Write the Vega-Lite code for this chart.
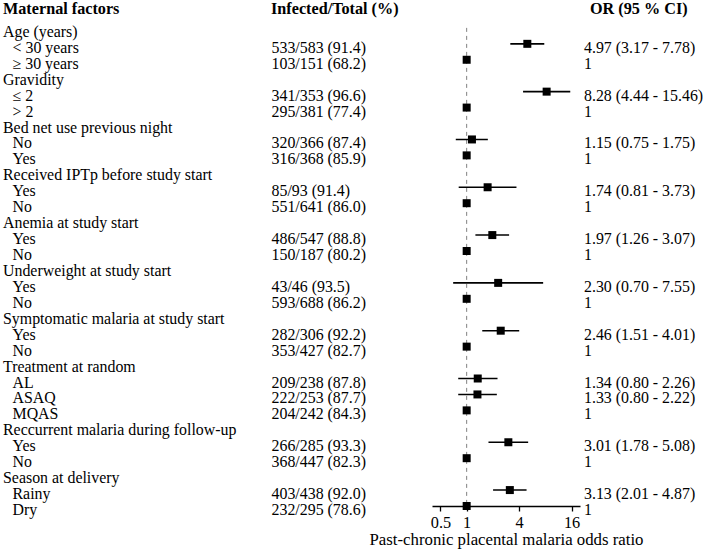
{
  "$schema": "https://vega.github.io/schema/vega-lite/v6.json",
  "padding": {"left": 3, "top": 0, "right": 0, "bottom": 0},
  "spacing": 0,
  "bounds": "flush",
  "background": "white",
  "config": {
    "view": {"stroke": null},
    "font": "Liberation Serif",
    "text": {"font": "Liberation Serif", "fontSize": 16, "color": "black"}
  },
  "datasets": {
    "rows": [
      {"row": 0, "level": "title", "label": "Maternal factors", "count": "Infected/Total (%)", "ortext": "OR (95 % CI)"},
      {"row": 1, "level": "group", "label": "Age (years)"},
      {"row": 2, "level": "item", "label": "< 30 years", "count": "533/583 (91.4)", "ortext": "4.97 (3.17 - 7.78)", "or": 4.97, "lo": 3.17, "hi": 7.78},
      {"row": 3, "level": "item", "label": "≥ 30 years", "count": "103/151 (68.2)", "ortext": "1", "or": 1},
      {"row": 4, "level": "group", "label": "Gravidity"},
      {"row": 5, "level": "item", "label": "≤ 2", "count": "341/353 (96.6)", "ortext": "8.28 (4.44 - 15.46)", "or": 8.28, "lo": 4.44, "hi": 15.46},
      {"row": 6, "level": "item", "label": "> 2", "count": "295/381 (77.4)", "ortext": "1", "or": 1},
      {"row": 7, "level": "group", "label": "Bed net use previous night"},
      {"row": 8, "level": "item", "label": "No", "count": "320/366 (87.4)", "ortext": "1.15 (0.75 - 1.75)", "or": 1.15, "lo": 0.75, "hi": 1.75},
      {"row": 9, "level": "item", "label": "Yes", "count": "316/368 (85.9)", "ortext": "1", "or": 1},
      {"row": 10, "level": "group", "label": "Received IPTp before study start"},
      {"row": 11, "level": "item", "label": "Yes", "count": "85/93 (91.4)", "ortext": "1.74 (0.81 - 3.73)", "or": 1.74, "lo": 0.81, "hi": 3.73},
      {"row": 12, "level": "item", "label": "No", "count": "551/641 (86.0)", "ortext": "1", "or": 1},
      {"row": 13, "level": "group", "label": "Anemia at study start"},
      {"row": 14, "level": "item", "label": "Yes", "count": "486/547 (88.8)", "ortext": "1.97 (1.26 - 3.07)", "or": 1.97, "lo": 1.26, "hi": 3.07},
      {"row": 15, "level": "item", "label": "No", "count": "150/187 (80.2)", "ortext": "1", "or": 1},
      {"row": 16, "level": "group", "label": "Underweight at study start"},
      {"row": 17, "level": "item", "label": "Yes", "count": "43/46 (93.5)", "ortext": "2.30 (0.70 - 7.55)", "or": 2.30, "lo": 0.70, "hi": 7.55},
      {"row": 18, "level": "item", "label": "No", "count": "593/688 (86.2)", "ortext": "1", "or": 1},
      {"row": 19, "level": "group", "label": "Symptomatic malaria at study start"},
      {"row": 20, "level": "item", "label": "Yes", "count": "282/306 (92.2)", "ortext": "2.46 (1.51 - 4.01)", "or": 2.46, "lo": 1.51, "hi": 4.01},
      {"row": 21, "level": "item", "label": "No", "count": "353/427 (82.7)", "ortext": "1", "or": 1},
      {"row": 22, "level": "group", "label": "Treatment at random"},
      {"row": 23, "level": "item", "label": "AL", "count": "209/238 (87.8)", "ortext": "1.34 (0.80 - 2.26)", "or": 1.34, "lo": 0.80, "hi": 2.26},
      {"row": 24, "level": "item", "label": "\u00a0ASAQ", "count": "222/253 (87.7)", "ortext": "1.33 (0.80 - 2.22)", "or": 1.33, "lo": 0.80, "hi": 2.22},
      {"row": 25, "level": "item", "label": "MQAS", "count": "204/242 (84.3)", "ortext": "1", "or": 1},
      {"row": 26, "level": "group", "label": "Reccurrent malaria during follow-up"},
      {"row": 27, "level": "item", "label": "Yes", "count": "266/285 (93.3)", "ortext": "3.01 (1.78 - 5.08)", "or": 3.01, "lo": 1.78, "hi": 5.08},
      {"row": 28, "level": "item", "label": "No", "count": "368/447 (82.3)", "ortext": "1", "or": 1},
      {"row": 29, "level": "group", "label": "Season at delivery"},
      {"row": 30, "level": "item", "label": "Rainy", "count": "403/438 (92.0)", "ortext": "3.13 (2.01 - 4.87)", "or": 3.13, "lo": 2.01, "hi": 4.87},
      {"row": 31, "level": "item", "label": "Dry", "count": "232/295 (78.6)", "ortext": "1", "or": 1}
    ]
  },
  "hconcat": [
    {
      "width": 268,
      "height": 506,
      "data": {"name": "rows"},
      "encoding": {
        "y": {"field": "row", "type": "quantitative", "scale": {"domain": [-0.75, 31], "reverse": true, "nice": false, "zero": false}, "axis": null},
        "x": {"value": 0},
        "text": {"field": "label", "type": "nominal"}
      },
      "layer": [
        {"transform": [{"filter": "datum.level === 'title'"}], "mark": {"type": "text", "align": "left", "baseline": "alphabetic", "dy": 2.5, "fontWeight": "bold", "fontSize": 16.2}},
        {"transform": [{"filter": "datum.level === 'group'"}], "mark": {"type": "text", "align": "left", "baseline": "alphabetic", "dy": 9, "fontSize": 15.9}},
        {"transform": [{"filter": "datum.level === 'item'"}], "mark": {"type": "text", "align": "left", "baseline": "alphabetic", "dy": 9, "dx": 9.5, "fontSize": 15.9}}
      ]
    },
    {
      "width": 161,
      "height": 506,
      "data": {"name": "rows"},
      "encoding": {
        "y": {"field": "row", "type": "quantitative", "scale": {"domain": [-0.75, 31], "reverse": true, "nice": false, "zero": false}, "axis": null},
        "x": {"value": 0},
        "text": {"field": "count", "type": "nominal"}
      },
      "layer": [
        {"transform": [{"filter": "datum.level === 'title'"}], "mark": {"type": "text", "align": "left", "baseline": "alphabetic", "dy": 2.5, "fontWeight": "bold", "fontSize": 16.2}},
        {"transform": [{"filter": "datum.level === 'item'"}], "mark": {"type": "text", "align": "left", "baseline": "alphabetic", "dy": 9, "dx": 0.5, "fontSize": 15.9}}
      ]
    },
    {
      "width": 148,
      "height": 506,
      "data": {"name": "rows"},
      "layer": [
        {
          "data": {"values": [{"ref": 1}]},
          "mark": {"type": "rule", "strokeDash": [4, 4], "color": "#808080", "strokeWidth": 1},
          "encoding": {
            "x": {"field": "ref", "type": "quantitative", "scale": {"type": "log", "domain": [0.4, 20], "nice": false}},
            "y": {"datum": 1, "type": "quantitative", "scale": {"domain": [-0.75, 31], "reverse": true, "nice": false, "zero": false}, "axis": null},
            "y2": {"datum": 31}
          }
        },
        {
          "transform": [{"filter": "isValid(datum.lo)"}],
          "mark": {"type": "rule", "color": "black", "strokeWidth": 1.6},
          "encoding": {
            "x": {"field": "lo", "type": "quantitative"},
            "x2": {"field": "hi"},
            "y": {"field": "row", "type": "quantitative"}
          }
        },
        {
          "transform": [{"filter": "isValid(datum.or)"}],
          "mark": {"type": "point", "shape": "square", "filled": true, "size": 64, "color": "black", "opacity": 1},
          "encoding": {
            "x": {
              "field": "or", "type": "quantitative",
              "axis": {
                "values": [0.5, 1, 4, 16], "format": "~g", "grid": false,
                "title": "Past-chronic placental malaria odds ratio",
                "domainColor": "black", "domainWidth": 1.3, "tickColor": "black", "tickWidth": 1.3, "tickSize": 5,
                "labelFont": "Liberation Serif", "labelFontSize": 16.3, "labelColor": "black", "labelPadding": 3, "labelOverlap": false, "labelFlush": false,
                "titleFont": "Liberation Serif", "titleFontSize": 16.8, "titleFontWeight": "normal", "titleColor": "black", "titlePadding": 1.5
              }
            },
            "y": {"field": "row", "type": "quantitative"}
          }
        }
      ]
    },
    {
      "width": 128,
      "height": 506,
      "data": {"name": "rows"},
      "encoding": {
        "y": {"field": "row", "type": "quantitative", "scale": {"domain": [-0.75, 31], "reverse": true, "nice": false, "zero": false}, "axis": null},
        "x": {"value": 0},
        "text": {"field": "ortext", "type": "nominal"}
      },
      "layer": [
        {"transform": [{"filter": "datum.level === 'title'"}], "mark": {"type": "text", "align": "left", "baseline": "alphabetic", "dy": 2.5, "dx": 10, "fontWeight": "bold", "fontSize": 16.2}},
        {"transform": [{"filter": "datum.level === 'item'"}], "mark": {"type": "text", "align": "left", "baseline": "alphabetic", "dy": 9, "dx": 4, "fontSize": 15.9}}
      ]
    }
  ]
}
